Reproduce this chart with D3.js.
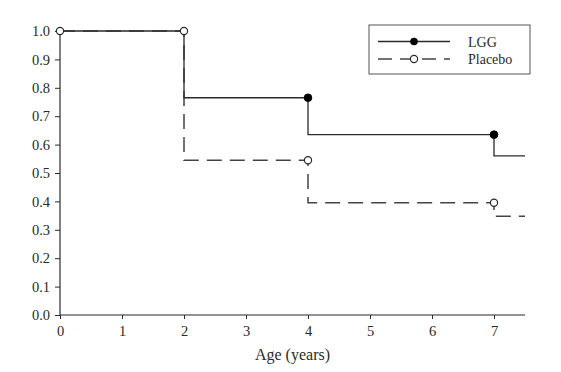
<!DOCTYPE html>
<html>
<head>
<meta charset="utf-8">
<script src="https://cdn.jsdelivr.net/npm/d3@7"></script>
<style>
  body { margin: 0; background: #fff; }
  text { font-family: "Liberation Serif", "Times New Roman", serif; fill: #2a2a2a; }
</style>
</head>
<body>
<div class="chart"></div>
<script>
// step values: value holds from age[i] until the next age
const ages = [0, 2, 4, 7, 7.5];
const lggValues = [1.0, 0.765, 0.635, 0.56, 0.56];
const placeboValues = [1.0, 0.545, 0.395, 0.348, 0.348];
// censor marks (drawn at the end of each step)
const lggMarks = [[4, 0.765], [7, 0.635]];
const placeboMarks = [[0, 1.0], [2, 1.0], [4, 0.545], [7, 0.395]];
const xTicks = [0, 1, 2, 3, 4, 5, 6, 7];
const yTicks = [0, 0.1, 0.2, 0.3, 0.4, 0.5, 0.6, 0.7, 0.8, 0.9, 1.0];

const w = 561;
const h = 372;
const ink = '#2a2a2a';

const svg = d3.select('.chart')
  .append('svg')
  .attr('width', w)
  .attr('height', h);

const x = d3.scaleLinear().domain([0, 7.5]).range([60, 525]);
const y = d3.scaleLinear().domain([0, 1]).range([315, 31]);

const xAxis = svg.append('g')
  .attr('transform', 'translate(0,' + y(0) + ')')
  .call(d3.axisBottom(x).tickValues(xTicks).tickFormat(d3.format('d')).tickSize(4).tickPadding(7));
const yAxis = svg.append('g')
  .attr('transform', 'translate(' + x(0) + ',0)')
  .call(d3.axisLeft(y).tickValues(yTicks).tickFormat(d3.format('.1f')).tickSize(5).tickPadding(5));

[xAxis, yAxis].forEach(g => {
  g.select('.domain').attr('stroke', ink).attr('stroke-width', 1.2);
  g.selectAll('.tick line').attr('stroke', ink);
  g.selectAll('.tick text').attr('font-size', 14.5).attr('fill', '#2a2a2a')
    .attr('font-family', '"Liberation Serif", serif');
});
xAxis.select('.domain').attr('d', 'M' + x(0) + ',0H' + x(7.5));
yAxis.select('.domain').attr('d', 'M0,' + y(1) + 'V' + y(0));

svg.append('text')
  .attr('x', x(3.75))
  .attr('y', 360)
  .attr('text-anchor', 'middle')
  .attr('font-size', 16)
  .text('Age (years)');

const line = d3.line()
  .x(d => x(d[0]))
  .y(d => y(d[1]))
  .curve(d3.curveStepAfter);

svg.append('path')
  .datum(ages.map((a, i) => [a, placeboValues[i]]))
  .attr('d', line)
  .attr('fill', 'none')
  .attr('stroke', '#444')
  .attr('stroke-width', 1.5)
  .attr('stroke-dasharray', '15,8');

svg.append('path')
  .datum(ages.map((a, i) => [a, lggValues[i]]))
  .attr('d', line)
  .attr('fill', 'none')
  .attr('stroke', ink)
  .attr('stroke-width', 1.3);

svg.selectAll('circle.lgg')
  .data(lggMarks)
  .enter()
  .append('circle')
  .attr('class', 'lgg')
  .attr('cx', d => x(d[0]))
  .attr('cy', d => y(d[1]))
  .attr('r', 3.8)
  .attr('fill', '#000')
  .attr('stroke', '#000');

svg.selectAll('circle.placebo')
  .data(placeboMarks)
  .enter()
  .append('circle')
  .attr('class', 'placebo')
  .attr('cx', d => x(d[0]))
  .attr('cy', d => y(d[1]))
  .attr('r', 3.6)
  .attr('fill', '#fff')
  .attr('stroke', ink)
  .attr('stroke-width', 1.2);

// legend
const legend = svg.append('g');
legend.append('rect')
  .attr('x', 369).attr('y', 25)
  .attr('width', 161).attr('height', 49)
  .attr('fill', '#fff')
  .attr('stroke', '#555')
  .attr('stroke-width', 1);

legend.append('line')
  .attr('x1', 378).attr('x2', 450).attr('y1', 41.5).attr('y2', 41.5)
  .attr('stroke', ink).attr('stroke-width', 1.3);
legend.append('circle')
  .attr('cx', 414).attr('cy', 41.5).attr('r', 3.8).attr('fill', '#000');
legend.append('text')
  .attr('x', 468).attr('y', 46.5)
  .attr('font-size', 14)
  .text('LGG');

legend.append('line')
  .attr('x1', 378).attr('x2', 450).attr('y1', 59).attr('y2', 59)
  .attr('stroke', '#444').attr('stroke-width', 1.5)
  .attr('stroke-dasharray', '14,8');
legend.append('circle')
  .attr('cx', 414).attr('cy', 59).attr('r', 3.6)
  .attr('fill', '#fff').attr('stroke', ink).attr('stroke-width', 1.2);
legend.append('text')
  .attr('x', 468).attr('y', 64)
  .attr('font-size', 14)
  .text('Placebo');
</script>
</body>
</html>
